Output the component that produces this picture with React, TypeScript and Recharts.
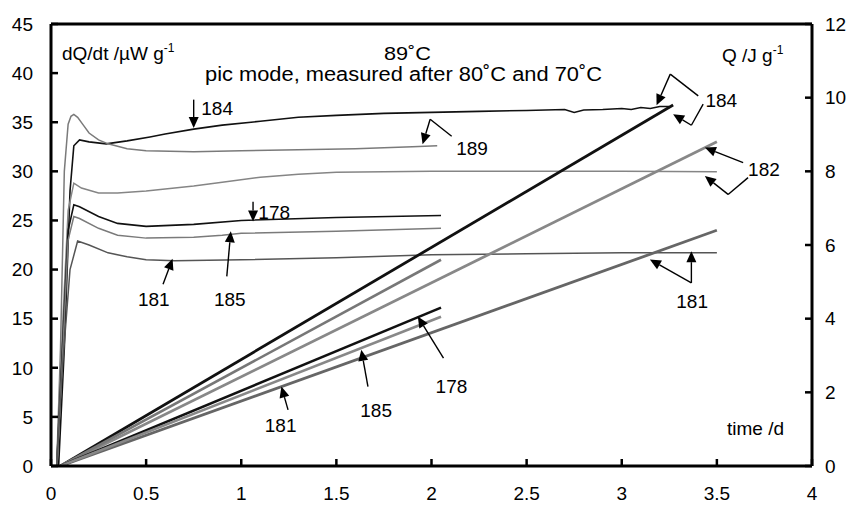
import { LineChart, Line, XAxis, YAxis, ReferenceLine, ReferenceDot } from "recharts";

const FONT = '"Liberation Sans", Arial, Helvetica, sans-serif';

// heat flow dQ/dt (µW g-1), left axis
const t184 = [0.04, 0.07, 0.1, 0.12, 0.15, 0.2, 0.29, 0.4, 0.52, 0.6, 0.75, 0.9, 1.1, 1.3, 1.5, 1.75, 2.0, 2.25, 2.5, 2.7, 2.75, 2.8, 2.9, 3.0, 3.05, 3.1, 3.15, 3.2, 3.25];
const p184 = [0, 12, 28, 32.6, 33.2, 33.0, 32.8, 33.1, 33.5, 33.8, 34.3, 34.7, 35.1, 35.5, 35.7, 35.9, 36.0, 36.1, 36.2, 36.3, 36.0, 36.25, 36.3, 36.4, 36.3, 36.5, 36.4, 36.6, 36.6];
const t189 = [0.03, 0.05, 0.07, 0.09, 0.105, 0.12, 0.14, 0.17, 0.2, 0.25, 0.3, 0.4, 0.5, 0.75, 1.0, 1.3, 1.6, 1.9, 2.03];
const p189 = [0, 12, 30, 34.8, 35.6, 35.8, 35.5, 34.7, 33.9, 33.2, 32.8, 32.3, 32.1, 32.0, 32.1, 32.2, 32.3, 32.5, 32.6];
const t182 = [0.03, 0.06, 0.09, 0.12, 0.16, 0.25, 0.35, 0.5, 0.75, 0.9, 1.1, 1.3, 1.5, 2.0, 2.5, 3.0, 3.5];
const p182 = [0, 14, 26, 28.8, 28.3, 27.8, 27.8, 28.0, 28.5, 28.9, 29.4, 29.7, 29.9, 30.0, 30.0, 30.0, 29.95];
const t178 = [0.03, 0.06, 0.09, 0.12, 0.15, 0.25, 0.35, 0.5, 0.75, 1.0, 1.5, 2.05];
const p178 = [0, 12, 24, 26.6, 26.4, 25.4, 24.7, 24.4, 24.6, 25.0, 25.3, 25.5];
const t185 = [0.03, 0.06, 0.09, 0.12, 0.15, 0.25, 0.35, 0.5, 0.75, 0.9, 1.0, 1.5, 2.05];
const p185 = [0, 11, 23, 25.4, 25.2, 24.2, 23.5, 23.2, 23.3, 23.5, 23.7, 23.9, 24.2];
const t181 = [0.03, 0.06, 0.1, 0.14, 0.2, 0.3, 0.4, 0.5, 0.65, 1.0, 1.5, 2.0, 2.5, 3.0, 3.5];
const p181 = [0, 10, 20, 22.9, 22.5, 21.7, 21.3, 21.0, 20.9, 21.0, 21.2, 21.5, 21.6, 21.7, 21.7];

// cumulative heat Q (J g-1), right axis
const qt184 = [0.05, 3.27];
const q184 = [0, 9.8];
const qt182 = [0.05, 3.5];
const q182 = [0, 8.8];
const qt181 = [0.05, 3.5];
const q181 = [0, 6.4];
const qt189 = [0.05, 2.05];
const q189 = [0, 5.6];
const qt178 = [0.05, 2.05];
const q178 = [0, 4.3];
const qt185 = [0.05, 2.05];
const q185 = [0, 4.05];

const xTicks = [0, 0.5, 1, 1.5, 2, 2.5, 3, 3.5, 4];
const leftTicks = [0, 5, 10, 15, 20, 25, 30, 35, 40, 45];
const rightTicks = [0, 2, 4, 6, 8, 10, 12];

const rows = (t: number[], v: number[]) => t.map((x, i) => ({ t: x, v: v[i] }));

const rateSeries = [
  { id: "r184", d: rows(t184, p184), color: "#111", w: 1.6 },
  { id: "r189", d: rows(t189, p189), color: "#7a7a7a", w: 1.5 },
  { id: "r182", d: rows(t182, p182), color: "#858585", w: 1.5 },
  { id: "r178", d: rows(t178, p178), color: "#111", w: 1.6 },
  { id: "r185", d: rows(t185, p185), color: "#7a7a7a", w: 1.5 },
  { id: "r181", d: rows(t181, p181), color: "#555", w: 1.5 },
];

const heatSeries = [
  { id: "q184", d: rows(qt184, q184), color: "#111", w: 2.8 },
  { id: "q182", d: rows(qt182, q182), color: "#888", w: 2.8 },
  { id: "q181", d: rows(qt181, q181), color: "#666", w: 2.8 },
  { id: "q189", d: rows(qt189, q189), color: "#777", w: 2.6 },
  { id: "q178", d: rows(qt178, q178), color: "#111", w: 2.6 },
  { id: "q185", d: rows(qt185, q185), color: "#888", w: 2.6 },
];

// annotation leaders, in left-axis data units: [x1, y1, x2, y2, arrowhead]
const leaders: [number, number, number, number, boolean][] = [
  [0.75, 37.3, 0.75, 34.4, true],
  [1.062, 26.9, 1.062, 24.9, true],
  [0.924, 19.3, 0.945, 23.9, true],
  [0.589, 18.5, 0.639, 21.1, true],
  [2.106, 33.57, 1.993, 35.3, false],
  [1.993, 35.3, 1.953, 32.76, true],
  [3.402, 37.68, 3.255, 39.9, false],
  [3.255, 39.9, 3.183, 36.73, true],
  [3.428, 36.84, 3.366, 34.69, false],
  [3.366, 34.69, 3.27, 35.82, true],
  [3.638, 30.89, 3.437, 32.42, true],
  [3.664, 29.36, 3.559, 27.65, false],
  [3.559, 27.65, 3.437, 29.52, true],
  [3.366, 18.64, 3.148, 21.02, true],
  [3.366, 18.64, 3.366, 21.87, true],
  [2.063, 10.99, 1.928, 15.23, true],
  [1.666, 8.09, 1.631, 11.84, true],
  [1.246, 5.71, 1.211, 8.09, true],
];

// sample labels: [text, x, baseline y, anchor]
const labels: [string, number, number, string][] = [
  ["184", 0.79, 35.7, "start"],
  ["178", 1.09, 25.1, "start"],
  ["185", 0.94, 16.25, "middle"],
  ["181", 0.54, 16.25, "middle"],
  ["189", 2.13, 31.7, "start"],
  ["184", 3.44, 36.5, "start"],
  ["182", 3.664, 29.5, "start"],
  ["181", 3.37, 16.1, "middle"],
  ["178", 2.105, 7.45, "middle"],
  ["185", 1.709, 5.03, "middle"],
  ["181", 1.207, 3.5, "middle"],
];

const arrowShape = (head: boolean) => (props: any) => {
  const { x1, y1, x2, y2 } = props;
  if ([x1, y1, x2, y2].some((v) => typeof v !== "number" || isNaN(v))) return <g />;
  const dx = x2 - x1;
  const dy = y2 - y1;
  const len = Math.hypot(dx, dy) || 1;
  const ux = dx / len;
  const uy = dy / len;
  const hl = 11;
  const hw = 5;
  const bx = x2 - ux * hl;
  const by = y2 - uy * hl;
  return (
    <g>
      <line x1={x1} y1={y1} x2={head ? bx : x2} y2={head ? by : y2} stroke="#000" strokeWidth={1.4} />
      {head && (
        <polygon
          points={`${x2},${y2} ${bx - uy * hw},${by + ux * hw} ${bx + uy * hw},${by - ux * hw}`}
          fill="#000"
        />
      )}
    </g>
  );
};

const tickStyle = { fill: "#000", fontSize: 19, fontFamily: FONT };

export default function App() {
  return (
    <div style={{ position: "absolute", left: 0, top: 0, width: 854, height: 506, background: "#fff" }}>
      <LineChart width={854} height={506} margin={{ top: 24, right: 2, bottom: 10, left: 6 }}>
        <XAxis
          dataKey="t"
          type="number"
          domain={[0, 4]}
          ticks={xTicks}
          interval={0}
          allowDataOverflow
          height={30}
          axisLine={{ stroke: "#000", strokeWidth: 3 }}
          tickLine={{ stroke: "#000", strokeWidth: 2.5 }}
          tickSize={-7}
          tickMargin={28}
          tick={tickStyle}
        />
        <YAxis
          yAxisId="left"
          type="number"
          domain={[0, 45]}
          ticks={leftTicks}
          interval={0}
          allowDataOverflow
          width={45}
          axisLine={{ stroke: "#000", strokeWidth: 3 }}
          tickLine={{ stroke: "#000", strokeWidth: 2.5 }}
          tickSize={-7}
          tickMargin={25}
          tick={tickStyle}
        />
        <YAxis
          yAxisId="right"
          orientation="right"
          type="number"
          domain={[0, 12]}
          ticks={rightTicks}
          interval={0}
          allowDataOverflow
          width={40}
          axisLine={{ stroke: "#000", strokeWidth: 3 }}
          tickLine={{ stroke: "#000", strokeWidth: 2.5 }}
          tickSize={-7}
          tickMargin={20}
          tick={tickStyle}
        />
        <ReferenceLine yAxisId="left" y={45} stroke="#000" strokeWidth={3} />
        {rateSeries.map((s) => (
          <Line
            key={s.id}
            data={s.d}
            dataKey="v"
            yAxisId="left"
            type="linear"
            dot={false}
            stroke={s.color}
            strokeWidth={s.w}
            isAnimationActive={false}
          />
        ))}
        {heatSeries.map((s) => (
          <Line
            key={s.id}
            data={s.d}
            dataKey="v"
            yAxisId="right"
            type="linear"
            dot={false}
            stroke={s.color}
            strokeWidth={s.w}
            isAnimationActive={false}
          />
        ))}
        {leaders.map(([ax, ay, bx, by, head], i) => (
          <ReferenceLine
            key={`ld${i}`}
            yAxisId="left"
            segment={[
              { x: ax, y: ay },
              { x: bx, y: by },
            ]}
            shape={arrowShape(head)}
          />
        ))}
        {labels.map(([txt, x, y, anchor], i) => (
          <ReferenceDot
            key={`lb${i}`}
            yAxisId="left"
            x={x}
            y={y}
            shape={(p: any) => (
              <text x={p.cx} y={p.cy} textAnchor={anchor as any} fontSize={19} fontFamily={FONT} fill="#000">
                {txt}
              </text>
            )}
          />
        ))}
      </LineChart>
      <svg
        width={854}
        height={506}
        style={{ position: "absolute", left: 0, top: 0, pointerEvents: "none" }}
        fontFamily={FONT}
        fontSize={19}
      >
        <text x={62} y={60}>
          dQ/dt /µW g<tspan dy={-8} fontSize={12}>-1</tspan>
        </text>
        <text x={384} y={60} textLength={47} lengthAdjust="spacingAndGlyphs">89˚C</text>
        <text x={205} y={81} fontSize={20} textLength={397} lengthAdjust="spacingAndGlyphs">
          pic mode, measured after 80˚C and 70˚C
        </text>
        <text x={722} y={62}>
          Q /J g<tspan dy={-8} fontSize={12}>-1</tspan>
        </text>
        <text x={727} y={435}>time /d</text>
      </svg>
    </div>
  );
}
